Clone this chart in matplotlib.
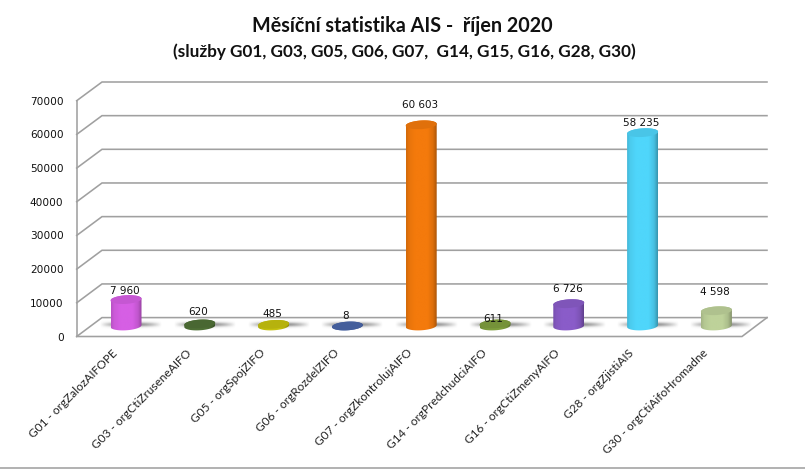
import numpy as np
import matplotlib
matplotlib.use("Agg")
import matplotlib.pyplot as plt
from matplotlib.patches import PathPatch
from matplotlib.path import Path

categories = ["G01 - orgZalozAIFOPE", "G03 - orgCtiZruseneAIFO", "G05 - orgSpojZIFO",
              "G06 - orgRozdelZIFO", "G07 - orgZkontrolujAIFO", "G14 - orgPredchudciAIFO",
              "G16 - orgCtiZmenyAIFO", "G28 - orgZjistiAIS", "G30 - orgCtiAifoHromadne"]
values = [7960, 620, 485, 8, 60603, 611, 6726, 58235, 4598]
value_labels = ["7 960", "620", "485", "8", "60 603", "611", "6 726", "58 235", "4 598"]
colors = ["#d65fe4", "#4f7036", "#c6c20e", "#4a66a8", "#f47a0c", "#7f9f3e", "#8a5cc9", "#4fd6fb", "#bed29a"]
label_rise = [6.5, 8.5, 7.5, 7.5, 14.0, 3.5, 10.5, 7.0, 13.5]
yticks = [0, 10000, 20000, 30000, 40000, 50000, 60000, 70000]

W, H = 805, 469
fig = plt.figure(figsize=(W / 100, H / 100), dpi=100, facecolor="white")

def rect(l, t, r, b):
    return [l / W, 1 - b / H, (r - l) / W, (b - t) / H]

GRID = "#a0a0a0"
FL, FR, FB, FT = 76.7, 742.0, 336.5, 100.7
BL, BR, BB, BT = 102.0, 767.0, 317.6, 82.0

# frame in pixel coordinates
fr = fig.add_axes([0, 0, 1, 1], zorder=1)
fr.set_xlim(0, W); fr.set_ylim(H, 0); fr.axis("off")
for v in yticks:
    yf = FB + (FT - FB) * v / 70000
    yb = BB + (BT - BB) * v / 70000
    fr.plot([FL, BL, BR], [yf, yb, yb], color=GRID, lw=1.15, solid_joinstyle="miter")
fr.plot([FL, FL], [FT, FB], color=GRID, lw=1.15)
fr.plot([FL, FR, BR], [FB, FB, BB], color=GRID, lw=1.15, solid_joinstyle="miter")
fr.plot([0, W], [467.6, 467.6], color="#a0a0a0", lw=1.15)

# tick labels
PX = 73.8          # pixels per category
CX0 = 126.0        # pixel centre of first bar
lab = fig.add_axes(rect(FL, FT, FR, FB), zorder=2)
lab.patch.set_alpha(0)
lab.set_ylim(0, 70000)
lab.set_xlim((FL - CX0) / PX, (FR - CX0) / PX)
for s in lab.spines.values():
    s.set_visible(False)
lab.set_yticks(yticks)
lab.set_yticklabels([str(v) for v in yticks], family="DejaVu Sans", fontsize=7.6, color="#111111")
lab.tick_params(axis="y", length=0, pad=9.5)
lab.set_xticks(np.arange(len(categories)) - 0.14)
lab.set_xticklabels(categories, rotation=45, ha="right", va="center", rotation_mode="anchor",
                    family="Lato", fontsize=8.6, color="#222222")
lab.tick_params(axis="x", length=0, pad=10.5)

# bars: x is category index, y is value
BASE = 326.0
VPX = 33.2 / 10000  # pixels per unit of value
ax = fig.add_axes([0, 0, 1, 1], zorder=3)
ax.patch.set_alpha(0)
ax.axis("off")
xlim = (-CX0 / PX, (W - CX0) / PX)
ylim = ((BASE - H) / VPX, BASE / VPX)

rx = 15.5 / PX
ry = 4.3 / VPX
tilt = 0.06 * PX / VPX

def ellipse(cx, cy, a=0, b=2 * np.pi, n=60):
    t = np.linspace(a, b, n)
    dx = rx * np.cos(t)
    return cx + dx, cy + ry * np.sin(t) + dx * tilt

grad_pos = np.array([0.0, 0.10, 0.30, 0.70, 0.88, 1.0])
grad_mul = np.array([0.86, 0.95, 1.00, 1.00, 0.90, 0.70])

for i, (v, c, txt, rise) in enumerate(zip(values, colors, value_labels, label_rise)):
    rgb = np.array(matplotlib.colors.to_rgb(c))
    # floor shadow, heavier to the right of the bar
    sx = np.linspace(-1, 1, 120)
    sy = np.linspace(-1, 1, 24)
    xx, yy = np.meshgrid(sx, sy)
    alpha = np.clip(1 - xx ** 2, 0, 1) ** 1.0 * np.exp(-(yy * 2.0) ** 2) * 0.7
    shadow = np.dstack([np.full_like(xx, 0.33)] * 3 + [alpha])
    ax.imshow(shadow, extent=(i - 26 / PX, i + 36 / PX, -900, 1700), aspect="auto", zorder=2,
              interpolation="bilinear")
    # body
    xb, yb = ellipse(i, 0, np.pi, 2 * np.pi)
    xt, yt = ellipse(i, v, 0, np.pi)
    verts = np.column_stack([np.r_[xb, xt], np.r_[yb, yt]])
    clip = PathPatch(Path(np.vstack([verts, verts[:1]]), closed=True), fc="none", ec="none",
                     transform=ax.transData)
    ax.add_patch(clip)
    g = np.linspace(0, 1, 64)
    mul = np.interp(g, grad_pos, grad_mul)
    img = np.clip(mul[None, :, None] * rgb[None, None, :], 0, 1)
    im = ax.imshow(img, extent=(i - rx, i + rx, -ry * 2.5, v + ry * 2.5), aspect="auto",
                   zorder=3, interpolation="bilinear")
    im.set_clip_path(clip)
    # top cap
    xc, yc = ellipse(i, v)
    ax.fill(xc, yc, color=tuple(rgb * 0.92), lw=0, zorder=4)
    ax.annotate(txt, (i, v), xytext=(-1, rise), textcoords="offset points", ha="center", va="center",
                family="DejaVu Sans", fontsize=7.5, color="#111111", zorder=5)
ax.set_xlim(xlim)
ax.set_ylim(ylim)

fig.text(402.5 / W, 1 - 26 / H, "Měsíční statistika AIS -  říjen 2020", family="Lato", weight="bold",
         fontsize=14.2, ha="center", va="center", color="#111111")
fig.text(404.5 / W, 1 - 51.5 / H, "(služby G01, G03, G05, G06, G07,  G14, G15, G16, G28, G30)", family="Lato",
         weight="bold", fontsize=12.3, ha="center", va="center", color="#111111")

fig.savefig("out.png", dpi=100, facecolor="white")
